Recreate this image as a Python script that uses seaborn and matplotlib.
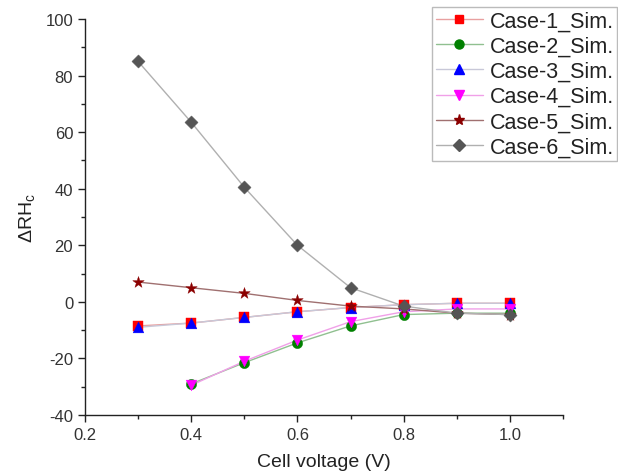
import matplotlib
matplotlib.use("Agg")
import matplotlib.pyplot as plt
import seaborn as sns
import pandas as pd
import numpy as np
from matplotlib.lines import Line2D
from matplotlib.ticker import MultipleLocator

sns.set_style("ticks")
plt.rcParams['font.family'] = ['Liberation Sans', 'DejaVu Sans']
plt.rcParams['mathtext.default'] = 'regular'
plt.rcParams['axes.unicode_minus'] = False

voltage = [0.3, 0.4, 0.5, 0.6, 0.7, 0.8, 0.9, 1.0]
case1 = [-8.5, -7.5, -5.5, -3.5, -2.0, -1.0, -0.5, -0.5]
case2 = [np.nan, -29.0, -21.5, -14.5, -8.5, -4.5, -4.0, -4.0]
case3 = [-9.0, -7.5, -5.5, -3.5, -2.0, -1.0, -0.5, -0.5]
case4 = [np.nan, -29.5, -21.0, -13.5, -7.0, -3.5, -2.5, -2.5]
case5 = [7.0, 5.0, 3.0, 0.5, -1.5, -2.5, -4.0, -4.5]
case6 = [85.0, 63.5, 40.5, 20.0, 5.0, -1.5, -4.0, -4.5]

names = ["Case-1_Sim.", "Case-2_Sim.", "Case-3_Sim.", "Case-4_Sim.", "Case-5_Sim.", "Case-6_Sim."]
series = [case1, case2, case3, case4, case5, case6]

marker_colors = ["#ff0000", "#008000", "#0000ff", "#ff00ff", "#8b0000", "#555555"]
line_colors = ["#e8a0a0", "#90c090", "#c8c8d8", "#f0a0e8", "#a07070", "#b0b0b0"]
markers = ["s", "o", "^", "v", "*", "D"]
msizes = [55, 55, 60, 60, 75, 45]

rows = []
for n, vals in zip(names, series):
    for v, y in zip(voltage, vals):
        if not np.isnan(y):
            rows.append({"voltage": v, "value": y, "case": n})
df = pd.DataFrame(rows)

fig = plt.figure(figsize=(6.18, 4.77), dpi=100)
ax = fig.add_axes([85/618, 61/477, (563-85)/618, (416-20)/477])

sns.lineplot(data=df, x="voltage", y="value", hue="case", hue_order=names,
             palette=dict(zip(names, line_colors)), linewidth=1.0,
             legend=False, ax=ax, sort=True)
for i, n in enumerate(names):
    sub = df[df["case"] == n]
    sns.scatterplot(data=sub, x="voltage", y="value", color=marker_colors[i],
                    marker=markers[i], s=msizes[i], edgecolor=marker_colors[i],
                    linewidth=0.3, legend=False, ax=ax, zorder=3 + i)

ax.set_xlim(0.2, 1.1)
ax.set_ylim(-40, 100)
ax.xaxis.set_minor_locator(MultipleLocator(0.1))
ax.yaxis.set_major_locator(MultipleLocator(20))
ax.yaxis.set_minor_locator(MultipleLocator(10))
ax.set_xticks([0.2, 0.4, 0.6, 0.8, 1.0])
ax.set_xticklabels(["0.2", "0.4", "0.6", "0.8", "1.0"])
ax.tick_params(axis="both", which="major", direction="out", length=5, width=1,
               labelsize=12, colors="#222222", labelcolor="#333333")
ax.tick_params(axis="both", which="minor", direction="out", length=3, width=1, colors="#222222")
for s in ["top", "right"]:
    ax.spines[s].set_visible(False)
for s in ["left", "bottom"]:
    ax.spines[s].set_linewidth(1.0)
    ax.spines[s].set_color("#222222")

ax.set_xlabel("Cell voltage (V)", fontsize=14, color="#222222", labelpad=8)
ax.set_ylabel(r"ΔRH$_c$", fontsize=14, color="#222222", labelpad=6)

handles = [Line2D([0], [0], color=line_colors[i], lw=1.0, marker=markers[i],
                  markerfacecolor=marker_colors[i], markeredgecolor=marker_colors[i],
                  markersize=[6, 6.5, 7, 7, 8, 6][i]) for i in range(6)]
leg = fig.legend(handles, names, loc="upper right", bbox_to_anchor=(617/618, 1 - 8/477),
                 fontsize=15.5, frameon=True, fancybox=False, edgecolor="#aaaaaa",
                 handlelength=2.2, handletextpad=0.3, labelspacing=0.2,
                 borderpad=0.15, borderaxespad=0)
leg.get_frame().set_linewidth(1.0)
for t in leg.get_texts():
    t.set_color("#222222")

fig.savefig("out.png", dpi=100, facecolor="white")
